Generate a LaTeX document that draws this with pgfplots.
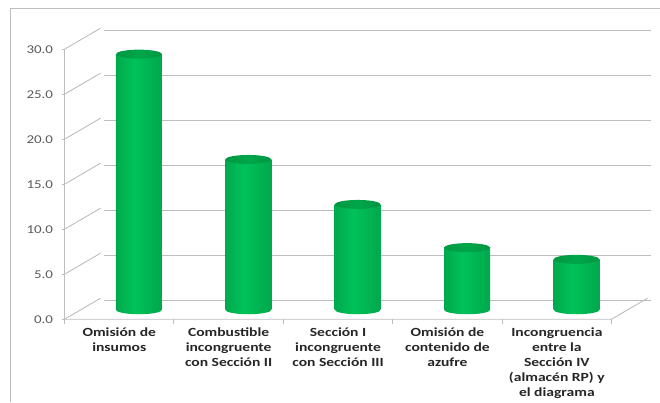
\documentclass[border=0pt]{standalone}
\usepackage{pgfplots}
\pgfplotsset{compat=1.18}
\usepackage{fontspec}
\setmainfont{Carlito}[FakeStretch=1.25]
\definecolor{cylDark}{HTML}{007A33}
\definecolor{cylBright}{HTML}{00C25A}
\definecolor{cylTop}{HTML}{00A64A}
\definecolor{gridc}{HTML}{BDBDBD}
\pgfdeclarehorizontalshading{cyl}{100bp}{color(0bp)=(cylDark); color(10bp)=(cylDark!60!cylBright); color(45bp)=(cylBright); color(82bp)=(cylDark!45!cylBright); color(100bp)=(cylDark)}
\pgfdeclarehorizontalshading{cyltopsh}{100bp}{color(0bp)=(cylDark!70!cylTop); color(50bp)=(cylTop); color(100bp)=(cylDark!70!cylTop)}
\pgfdeclareplotmark{cyltop}{%
  \pgfpathellipse{\pgfpointorigin}{\pgfqpoint{23bp}{0pt}}{\pgfqpoint{0pt}{4.5bp}}%
  \pgfshadepath{cyltopsh}{0}\pgfusepath{}}
\pgfdeclareplotmark{cylbot}{%
  \pgfpathellipse{\pgfpointorigin}{\pgfqpoint{23bp}{0pt}}{\pgfqpoint{0pt}{4.5bp}}%
  \pgfshadepath{cyl}{0}\pgfusepath{}}
\pgfplotsset{cylbar/.style={ybar, bar width=46bp, bar shift=0pt, draw=none, shade, shading=cyl}}
\begin{document}
\begin{tikzpicture}[x=1bp,y=1bp]
\draw[gridc, line width=0.9bp] (10,0) -- (10,394) -- (660,394);
% back wall
\begin{axis}[at={(95,113)}, anchor=south west, scale only axis,
  width=547bp, height=270bp, xmin=0.5, xmax=5.5, ymin=0, ymax=30,
  axis line style={draw=none}, xtick=\empty, ytick={0,5,...,30},
  yticklabels={}, major tick length=0pt, ymajorgrids,
  grid style={gridc, line width=0.9bp}]
\end{axis}
% front plane
\begin{axis}[at={(59,92)}, anchor=south west, scale only axis,
  width=547bp, height=270bp, xmin=0.5, xmax=5.5, ymin=0, ymax=30,
  clip=false,
  axis line style={draw=none},
  xtick pos=left, ytick pos=left, tick align=outside,
  ytick={0,5,...,30},
  /pgf/number format/fixed, /pgf/number format/fixed zerofill,
  /pgf/number format/precision=1, /pgf/number format/assume math mode=true,
  yticklabel style={text=black!65, font=\fontsize{12}{13}\selectfont, xshift=-5bp},
  major tick length=3bp, minor tick length=5bp,
  tick style={gridc, line width=0.9bp},
  major x tick style={draw=none},
  xtick={1,2,3,4,5},
  minor xtick={0.5,1.5,...,5.5},
  xticklabels={{Omisión de\\insumos},{Combustible\\incongruente\\con Sección II},{Sección I\\incongruente\\con Sección III},{Omisión de\\contenido de\\azufre},{Incongruencia\\entre la\\Sección IV\\(almacén RP) y\\el diagrama}},
  xticklabel style={align=center, text=black!85, font=\bfseries\fontsize{12.5}{15}\selectfont, yshift=-2bp},
  ]
\pgfplotsinvokeforeach{0,5,...,30}{\draw[gridc, line width=0.9bp] (axis cs:0.5,#1) -- ++(36bp,21bp);}
\draw[gridc, line width=0.9bp] (axis cs:0.5,30) -- (axis cs:0.5,0) -- (axis cs:5.5,0) -- ++(36bp,21bp);
\end{axis}
% middle plane: cylinders
\begin{axis}[at={(77,102.5)}, anchor=south west, scale only axis,
  width=547bp, height=270bp, xmin=0.5, xmax=5.5, ymin=0, ymax=30,
  hide axis, clip=false]
\addplot[only marks, mark=cylbot] coordinates {(1,0) (2,0) (3,0) (4,0) (5,0)};
\addplot[cylbar] coordinates {(1,28.4)};
\addplot[cylbar] coordinates {(2,16.7)};
\addplot[cylbar] coordinates {(3,11.7)};
\addplot[cylbar] coordinates {(4,6.9)};
\addplot[cylbar] coordinates {(5,5.6)};
\addplot[only marks, mark=cyltop] coordinates {(1,28.4) (2,16.7) (3,11.7) (4,6.9) (5,5.6)};
\end{axis}
\pgfresetboundingbox
\path[use as bounding box] (0,0) rectangle (660,402);
\end{tikzpicture}
\end{document}
